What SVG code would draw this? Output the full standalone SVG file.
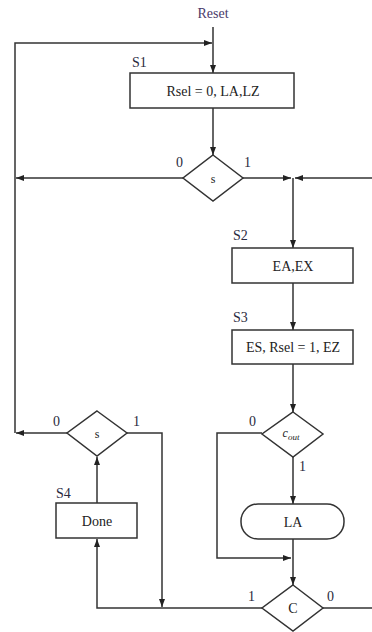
<svg xmlns="http://www.w3.org/2000/svg" width="372" height="632" viewBox="0 0 372 632">
<defs>
<style>
.box{fill:#fff;stroke:#333;stroke-width:1.5}
.ln{fill:none;stroke:#333;stroke-width:1.5}
.t{font-family:"Liberation Serif","Times New Roman",serif;font-size:14px;fill:#222;text-anchor:middle}
.lb{font-family:"Liberation Serif","Times New Roman",serif;font-size:14px;fill:#2a2a40}
</style>
<marker id="ah" markerUnits="userSpaceOnUse" markerWidth="9" markerHeight="7" refX="8" refY="3" orient="auto">
<path d="M0,0 L8,3 L0,6 z" fill="#222"/>
</marker>
</defs>
<rect width="372" height="632" fill="#fff"/>
<g id="connectors">
<path class="ln" d="M213,27 V73" marker-end="url(#ah)"/>
<path class="ln" d="M15,433 V43 H212" marker-end="url(#ah)"/>
<path class="ln" d="M213,108 V155" marker-end="url(#ah)"/>
<path class="ln" d="M183,178 H16" marker-end="url(#ah)"/>
<path class="ln" d="M243,178 H291" marker-end="url(#ah)"/>
<path class="ln" d="M372,178 H295" marker-end="url(#ah)"/>
<path class="ln" d="M293,178 V248" marker-end="url(#ah)"/>
<path class="ln" d="M293,283 V330" marker-end="url(#ah)"/>
<path class="ln" d="M293,364 V412" marker-end="url(#ah)"/>
<path class="ln" d="M293,457 V504" marker-end="url(#ah)"/>
<path class="ln" d="M262,433 H217 V558 H291" marker-end="url(#ah)"/>
<path class="ln" d="M293,539 V585" marker-end="url(#ah)"/>
<path class="ln" d="M323,608 H372"/>
<path class="ln" d="M262,608 H97 V539" marker-end="url(#ah)"/>
<path class="ln" d="M97,503 V457" marker-end="url(#ah)"/>
<path class="ln" d="M127,433 H162 V607" marker-end="url(#ah)"/>
<path class="ln" d="M67,433 H16" marker-end="url(#ah)"/>
</g>
<g id="reset"><text class="t" x="213" y="18" style="fill:#4a3a6a">Reset</text></g>
<g id="S1">
<text class="lb" x="132" y="67">S1</text>
<rect class="box" x="130" y="73" width="164" height="35"/>
<text class="t" x="213" y="96">Rsel = 0, LA,LZ</text>
</g>
<g id="dec_s1">
<polygon class="box" points="213,155 243,178 213,201 183,178"/>
<text class="t" x="213" y="183" style="font-size:12px">s</text>
<text class="lb" x="176" y="167">0</text>
<text class="lb" x="244" y="167">1</text>
</g>
<g id="S2">
<text class="lb" x="233" y="240">S2</text>
<rect class="box" x="232" y="248" width="121" height="35"/>
<text class="t" x="293" y="271">EA,EX</text>
</g>
<g id="S3">
<text class="lb" x="233" y="322">S3</text>
<rect class="box" x="232" y="330" width="121" height="34"/>
<text class="t" x="293" y="352">ES, Rsel = 1, EZ</text>
</g>
<g id="dec_cout">
<polygon class="box" points="293,412 323,434 293,457 262,434"/>
<text class="t" x="291" y="437" style="font-style:italic;font-size:12px">c<tspan font-size="9" dy="3">out</tspan></text>
<text class="lb" x="249" y="426">0</text>
<text class="lb" x="299" y="471">1</text>
</g>
<g id="LA">
<rect class="box" x="241" y="504" width="103" height="35" rx="17" ry="17"/>
<text class="t" x="293" y="527">LA</text>
</g>
<g id="dec_C">
<polygon class="box" points="293,585 323,608 293,631 262,608"/>
<text class="t" x="293" y="613">C</text>
<text class="lb" x="248" y="601">1</text>
<text class="lb" x="327" y="601">0</text>
</g>
<g id="S4">
<text class="lb" x="56" y="498">S4</text>
<rect class="box" x="56" y="503" width="81" height="35"/>
<text class="t" x="97" y="526">Done</text>
</g>
<g id="dec_s2">
<polygon class="box" points="97,411 127,433 97,456 67,433"/>
<text class="t" x="97" y="438" style="font-size:12px">s</text>
<text class="lb" x="53" y="426">0</text>
<text class="lb" x="133" y="426">1</text>
</g>
</svg>
